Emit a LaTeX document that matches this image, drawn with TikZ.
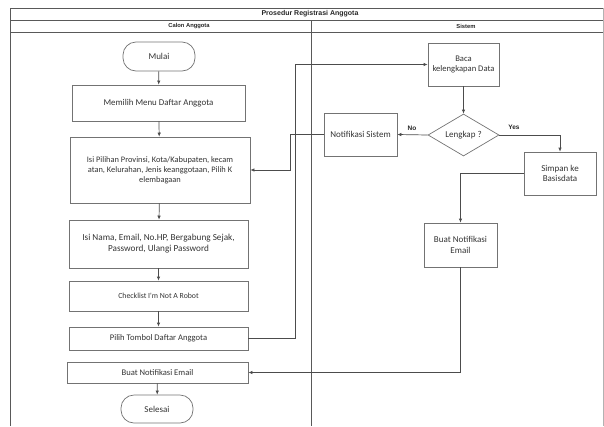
\documentclass[tikz,border=0pt]{standalone}
\usepackage{fontspec}
\setmainfont{Liberation Sans}
\newfontfamily\calfont{Carlito}
\usetikzlibrary{shapes.geometric,arrows.meta}
\newcommand\fsz[1]{\calfont\fontsize{#1}{1.2\dimexpr#1pt\relax}\selectfont}
\begin{document}
\begin{tikzpicture}[x=1pt,y=-1pt,
  frameline/.style={draw=black!65,line width=0.8pt},
  box/.style={draw=black!55,line width=0.7pt,rectangle,inner sep=0pt,align=center,font=\fsz{8.5},text=black!80},
  term/.style={box,rounded corners=13pt},
  dec/.style={draw=black!55,line width=0.7pt,diamond,aspect=1.7,inner sep=0pt,minimum width=71pt,minimum height=42pt,font=\fsz{9},text=black!80},
  conn/.style={draw=black!70,line width=0.7pt,-{Latex[length=4pt,width=3.5pt]}},
  lab/.style={font=\bfseries\fontsize{6.5}{8}\selectfont,text=black!85}
]
\useasboundingbox (0,0) rectangle (604,426);
% frame
\draw[frameline] (10,426) -- (10,8) -- (603,8);
\draw[frameline] (10,20) -- (603,20);
\draw[frameline] (10,32) -- (603,32);
\draw[frameline] (311,20) -- (311,426);
\draw[frameline,draw=black!30] (603,8) -- (603,426);
\node[font=\bfseries\fontsize{7}{8}\selectfont,text=black!85] (title) at (310,14) {Prosedur Registrasi Anggota};
\node[font=\bfseries\fontsize{5.8}{7}\selectfont,text=black!85] (hcalon) at (189,26) {Calon Anggota};
\node[font=\bfseries\fontsize{5.8}{7}\selectfont,text=black!85] (hsistem) at (466,26) {Sistem};
% left lane
\node[term,minimum width=72pt,minimum height=29pt,font=\fsz{9}] (mulai) at (159,56.5) {Mulai};
\node[box,minimum width=173pt,minimum height=36pt,font=\fsz{8.9}] (memilih) at (158.5,103) {Memilih Menu Daftar Anggota};
\node[box,minimum width=180pt,minimum height=66pt,font=\fsz{8.4}] (isipil) at (160,170) {Isi Pilihan Provinsi, Kota/Kabupaten, kecam\\atan, Kelurahan, Jenis keanggotaan, Pilih K\\elembagaan};
\node[box,minimum width=179pt,minimum height=48pt,font=\fsz{9.2}] (isinama) at (158.5,244) {Isi Nama, Email, No.HP, Bergabung Sejak,\\Password, Ulangi Password};
\node[box,minimum width=179pt,minimum height=30pt,font=\fsz{7.8}] (check) at (158.5,296) {Checklist I'm Not A Robot};
\node[box,minimum width=179pt,minimum height=23pt,font=\fsz{8.6}] (pilih) at (158.5,338.5) {Pilih Tombol Daftar Anggota};
\node[box,minimum width=181pt,minimum height=21pt,font=\fsz{8.6}] (buatL) at (157.5,372.5) {Buat Notifikasi Email};
\node[term,minimum width=72pt,minimum height=28pt,font=\fsz{9}] (selesai) at (157,409) {Selesai};
% right lane
\node[box,minimum width=71pt,minimum height=43pt,font=\fsz{8.6}] (baca) at (463.5,64.5) {Baca\\kelengkapan Data};
\node[dec] (lengkap) at (463.5,135) {Lengkap ?};
\node[box,minimum width=73pt,minimum height=43pt,font=\fsz{9}] (notif) at (360.5,134.5) {Notifikasi Sistem};
\node[box,minimum width=72pt,minimum height=43pt,font=\fsz{9}] (simpan) at (560,173.5) {Simpan ke\\Basisdata};
\node[box,minimum width=73pt,minimum height=44pt,font=\fsz{9}] (buatR) at (460.5,245) {Buat Notifikasi\\Email};
% coordinates
\coordinate (p1) at (295,338.5);
\coordinate (p2) at (295,64.5);
\coordinate (n1) at (290,134.5);
\coordinate (n2) at (290,170);
\coordinate (y1) at (560,135);
\coordinate (s1) at (460.5,173.5);
\coordinate (b1) at (460.5,372.5);
% connectors
\draw[conn] (mulai) -- (memilih);
\draw[conn] (memilih) -- (isipil);
\draw[conn] (isipil) -- (isinama);
\draw[conn] (isinama) -- (check);
\draw[conn] (check) -- (pilih);
\draw[conn] (buatL) -- (selesai);
\draw[conn] (pilih.east) -- (p1) -- (p2) -- (baca.west);
\draw[conn] (baca) -- (lengkap);
\draw[conn] (lengkap.west) -- (notif.east);
\draw[conn] (lengkap.east) -- (y1) -- (simpan.north);
\draw[conn] (simpan.west) -- (s1) -- (buatR.north);
\draw[conn] (buatR.south) -- (b1) -- (buatL.east);
\draw[conn] (notif.west) -- (n1) -- (n2) -- (isipil.east);
\node[lab] (no) at (412,128.5) {No};
\node[lab] (yes) at (514,127) {Yes};
\end{tikzpicture}
\end{document}
